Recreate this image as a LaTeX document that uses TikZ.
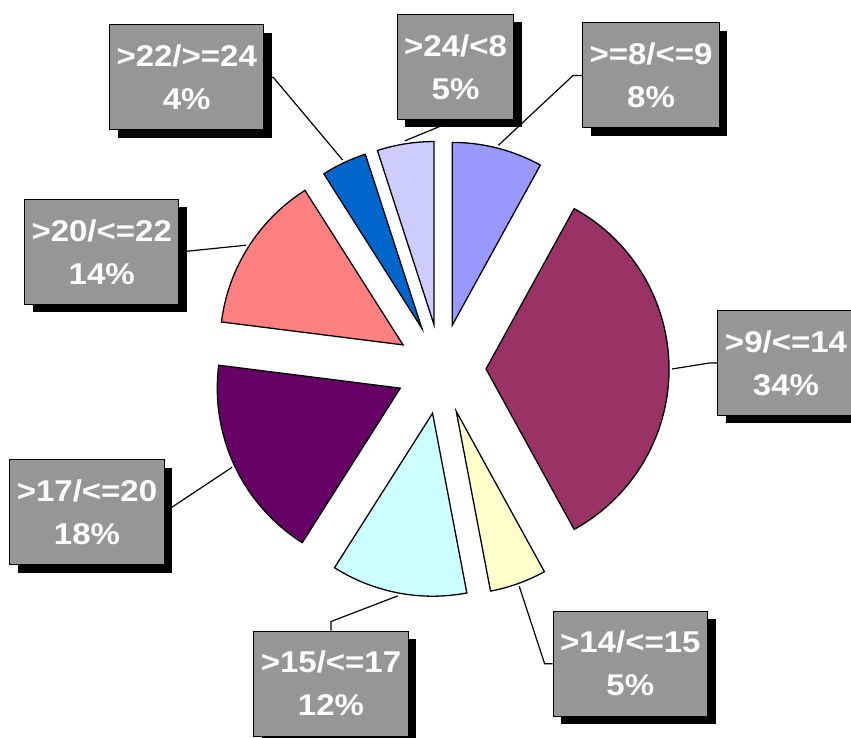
\documentclass[tikz,border=0pt]{standalone}
\usepackage{fontspec}
\newfontfamily\lblfont{Liberation Sans}[FakeStretch=1.1]
\usetikzlibrary{shadows}
\definecolor{peri}{HTML}{9999FF}
\definecolor{maroon}{HTML}{993366}
\definecolor{cream}{HTML}{FFFFCC}
\definecolor{aqua}{HTML}{CCFFFF}
\definecolor{plum}{HTML}{660066}
\definecolor{salmon}{HTML}{FF8080}
\definecolor{royal}{HTML}{0066CC}
\definecolor{lilac}{HTML}{CCCCFF}
\definecolor{boxgray}{HTML}{969696}
\begin{document}
\begin{tikzpicture}[x=1pt,y=1pt,
  slice/.style={draw=black,line width=1.3pt,line join=miter},
  leader/.style={line width=1.2pt},
  lbl/.style={draw=black,line width=1pt,fill=boxgray,text=white,align=center,
    font={\lblfont\bfseries\fontsize{30}{43}\selectfont},
    inner xsep=7pt,minimum height=105pt,
    drop shadow={shadow xshift=8pt,shadow yshift=-8pt,fill=black,opacity=1}}]
\useasboundingbox (0,0) rectangle (851,737);
\coordinate (ctr) at (441,368);
%
% sectores separados del centro
\foreach \from/\to/\col/\nm in {90/61.2/peri/s1,61.2/-61.2/maroon/s2,
  -61.2/-79.2/cream/s3,-79.2/-122.4/aqua/s4,-122.4/-187.2/plum/s5,
  -187.2/-237.6/salmon/s6,-237.6/-252/royal/s7,-252/-270/lilac/s8}
{
  \pgfmathsetmacro\midang{(\from+\to)/2}
  \draw[slice,fill=\col] (ctr) ++(\midang:45) coordinate (\nm-o)
    -- ++(\from:183) arc[start angle=\from,end angle=\to,radius=183] -- cycle;
  \path (\nm-o) ++(\midang:186) coordinate (\nm-p);
}
%
% etiquetas
\node[lbl] (l1) at (651,661.5) {>=8/<=9\\8\%};
\node[lbl] (l2) at (786,374) {>9/<=14\\34\%};
\node[lbl] (l3) at (630.3,73.3) {>14/<=15\\5\%};
\node[lbl] (l4) at (331,53.5) {>15/<=17\\12\%};
\node[lbl] (l5) at (87,225) {>17/<=20\\18\%};
\node[lbl] (l6) at (101.7,485) {>20/<=22\\14\%};
\node[lbl] (l7) at (186.7,659.5) {>22/>=24\\4\%};
\node[lbl] (l8) at (455.5,670) {>24/<8\\5\%};
%
% lineas guia
\draw[leader] (l1.west) -- ++(-9,0) -- (s1-p);
\draw[leader] (l2.west) -- ++(-8,0) -- (s2-p);
\draw[leader] (l3.west) -- ++(-8,0) -- (s3-p);
\draw[leader] (l4.north) -- ++(0,9) -- (s4-p);
\draw[leader] (l5.east) -- (s5-p);
\draw[leader] (l6.east) -- (s6-p);
\draw[leader] (l7.east) -- ++(9,0) -- (s7-p);
\draw[leader] (l8.south) -- (s8-p);
\end{tikzpicture}
\end{document}
